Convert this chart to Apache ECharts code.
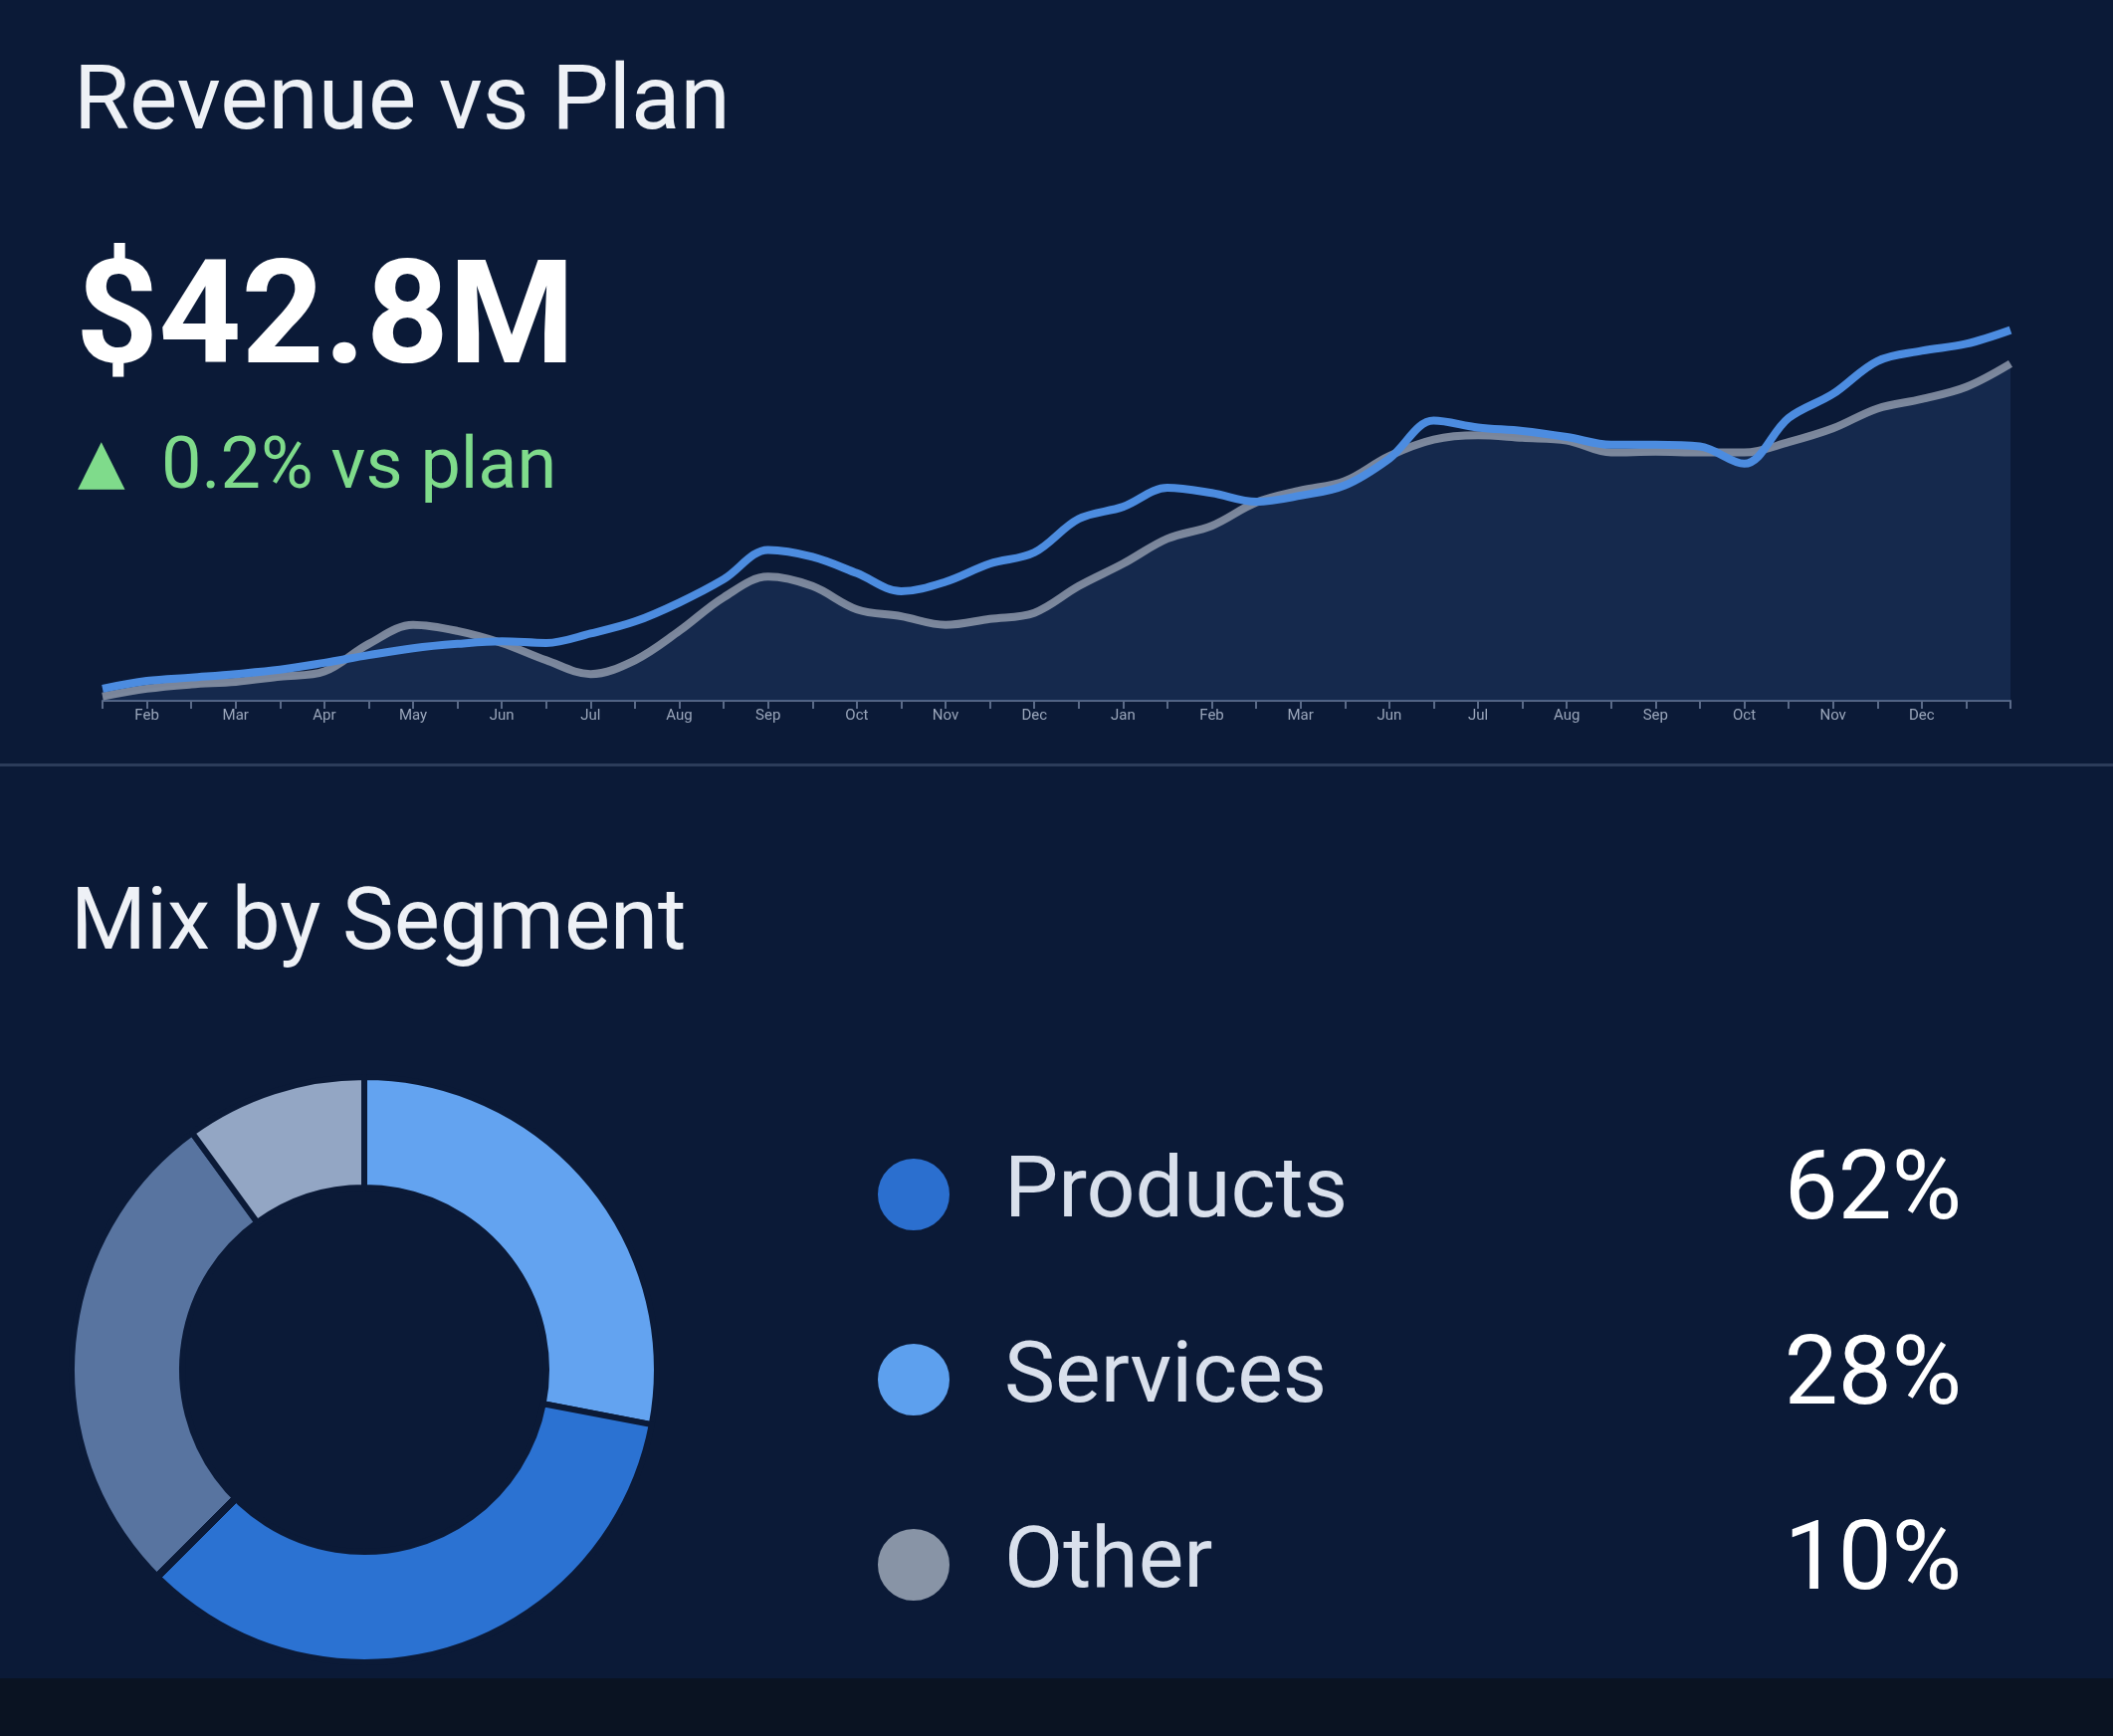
<!DOCTYPE html>
<html>
<head>
<meta charset="utf-8">
<script src="https://cdn.jsdelivr.net/npm/echarts@6/dist/echarts.min.js"></script>
<style>
html,body{margin:0;padding:0;background:#0b1a37;}
#chart{width:2123px;height:1744px;}
</style>
</head>
<body>
<div id="chart"></div>
<script>
// ---- data ----
const tickLabels = ['Feb','Mar','Apr','May','Jun','Jul','Aug','Sep','Oct','Nov','Dec','Jan','Feb','Mar','Jun','Jul','Aug','Sep','Oct','Nov','Dec'];
// half-month periods, from mid-Jan (year 1) to the end of the second year
const periods = ['P0.5','P1','P1.5','P2','P2.5','P3','P3.5','P4','P4.5','P5','P5.5','P6','P6.5','P7','P7.5','P8','P8.5','P9','P9.5','P10','P10.5','P11','P11.5','P12','P12.5','P13','P13.5','P14','P14.5','P15','P15.5','P16','P16.5','P17','P17.5','P18','P18.5','P19','P19.5','P20','P20.5','P21','P21.5','P22'];
const actual = [1.4,2.3,2.7,3.1,3.6,4.4,5.3,6.1,6.6,6.9,6.7,7.8,9.2,11.4,14.1,17.5,16.7,14.8,12.7,13.8,15.9,17.2,21.1,22.5,24.7,24.1,23.1,23.8,25.0,28.1,32.5,31.7,31.3,30.6,29.7,29.7,29.5,27.5,32.8,35.6,39.4,40.6,41.4,43.0];
const plan   = [0.5,1.4,1.9,2.2,2.8,3.4,6.6,8.8,8.1,6.7,4.7,3.1,4.7,8.1,12.0,14.4,13.3,10.6,9.8,8.8,9.5,10.2,13.3,15.9,18.8,20.3,23.0,24.4,25.5,28.4,30.3,30.8,30.5,30.2,28.8,28.9,28.8,28.8,30.0,31.6,33.9,35.0,36.4,39.1];
const segNames  = ['Products','Services','Other'];
const segValues = [62, 28, 10];
const headline = '$42.8M';
const deltaArrow = '▲';
const deltaText = '0.2% vs plan';

// ---- styles ----
const BG = '#0b1a37';
const segColors = { Products: '#2b72d2', Services: '#63a3f0', Other: '#93a6c4' };
const legendDot = { Products: '#2b6fcf', Services: '#5da0ee', Other: '#8894a6' };
const FONT = 'Roboto, Inter, "Noto Sans", "DejaVu Sans", sans-serif';
const pieCenter = [366, 1376];

const chart = echarts.init(document.getElementById('chart'), null, {renderer:'canvas'});

const productsFill = {
  type: 'linear', global: true,
  x: pieCenter[0] - 100, y: pieCenter[1] - 100, x2: pieCenter[0] + 100, y2: pieCenter[1] + 100,
  colorStops: [
    {offset: 0, color: '#5874a0'}, {offset: 0.487, color: '#5874a0'},
    {offset: 0.487, color: BG}, {offset: 0.513, color: BG},
    {offset: 0.513, color: '#2b72d2'}, {offset: 1, color: '#2b72d2'}
  ]
};

// pie order: start at 12 o'clock with Services, then Products, then Other
const pieOrder = ['Services','Products','Other'];
const pieData = pieOrder.map(n => ({
  name: n,
  value: segValues[segNames.indexOf(n)],
  itemStyle: { color: n === 'Products' ? productsFill : segColors[n] }
}));

const option = {
  backgroundColor: BG,
  animation: false,
  grid: { left: 103, right: 103, top: 271, bottom: 1040 },
  xAxis: {
    type: 'category',
    data: periods,
    boundaryGap: false,
    axisLine: { lineStyle: { color: '#5a6a88', width: 2 } },
    axisTick: { show: true, interval: 0, length: 8, lineStyle: { color: '#5a6a88', width: 2 } },
    axisLabel: {
      interval: 0, margin: 8, color: '#9aa6bb', fontSize: 15, fontFamily: FONT,
      formatter: (v, idx) => (idx % 2 === 1 && tickLabels[(idx - 1) / 2]) || ''
    },
    splitLine: { show: false }
  },
  yAxis: { type: 'value', min: 0, max: 50, show: false, splitLine: { show: false } },
  legend: {
    orient: 'vertical',
    left: 875, top: 1147,
    itemWidth: 172, itemHeight: 74, itemGap: 90,
    icon: 'circle',
    selectedMode: false,
    data: segNames.map(n => ({ name: n, itemStyle: { color: legendDot[n] } })),
    formatter: name => '{n|' + name + '}{v|' + segValues[segNames.indexOf(name)] + '%}',
    textStyle: {
      fontFamily: FONT,
      rich: {
        n: { fontSize: 86, color: '#d9e0ec', width: 742, lineHeight: 74, fontFamily: FONT },
        v: { fontSize: 96, color: '#ffffff', width: 220, align: 'right', lineHeight: 74, fontFamily: FONT }
      }
    }
  },
  series: [
    {
      name: 'Plan', type: 'line', data: plan, smooth: 0.35, symbol: 'none', z: 2,
      lineStyle: { color: '#8e99ab', width: 8, opacity: 0.85 },
      areaStyle: { color: 'rgba(45,75,125,0.45)' }
    },
    {
      name: 'Actual', type: 'line', data: actual, smooth: 0.35, symbol: 'none', z: 3,
      lineStyle: { color: '#4c8ce0', width: 8 }
    },
    {
      name: 'Mix', type: 'pie', center: pieCenter, radius: [183, 294],
      startAngle: 90, clockwise: true, label: { show: false }, labelLine: { show: false },
      itemStyle: { borderColor: BG, borderWidth: 6 },
      emphasis: { disabled: true },
      data: pieData
    }
  ],
  graphic: [
    { type: 'rect', left: 0, top: 1686, shape: { width: 2123, height: 58 }, style: { fill: '#0a1322' }, z: -1 },
    { type: 'rect', left: 0, top: 767, shape: { width: 2123, height: 3 }, style: { fill: '#2c3c5a' } },
    { type: 'text', x: 74, y: 106, style: { text: 'Revenue vs Plan', font: '91px ' + FONT, fill: '#eef1f6', verticalAlign: 'middle' } },
    { type: 'text', x: 76, y: 328, style: { text: headline, font: 'bold 145px ' + FONT, fill: '#ffffff', verticalAlign: 'middle' } },
    { type: 'text', x: 78, y: 468, style: { text: deltaArrow, font: '62px "DejaVu Sans", sans-serif', fill: '#7fdb8b', verticalAlign: 'middle' } },
    { type: 'text', x: 162, y: 472, style: { text: deltaText, font: '72px ' + FONT, fill: '#7fdb8b', verticalAlign: 'middle' } },
    { type: 'text', x: 71, y: 931, style: { text: 'Mix by Segment', font: '87px ' + FONT, fill: '#eef1f6', verticalAlign: 'middle' } }
  ]
};
chart.setOption(option);
</script>
</body>
</html>
